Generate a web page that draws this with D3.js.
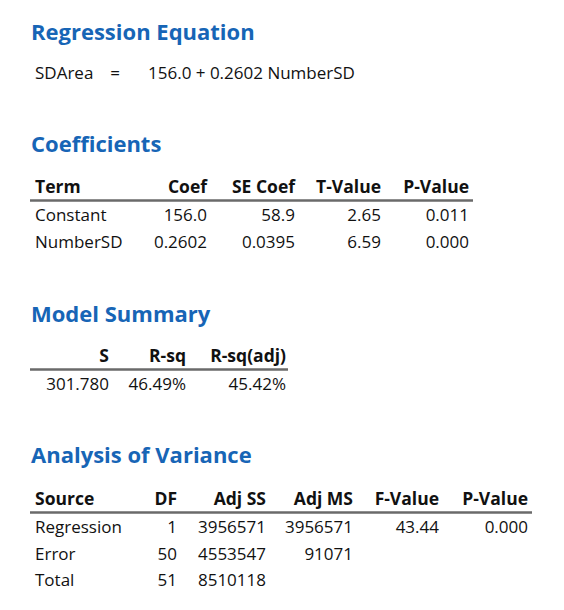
<!DOCTYPE html>
<html>
<head>
<meta charset="utf-8">
<script src="https://cdn.jsdelivr.net/npm/d3@7"></script>
<style>
  body { margin: 0; background: #fff; }
  text { font-family: "Open Sans", "Noto Sans", sans-serif; }
</style>
</head>
<body>
<div id="output"></div>
<script>
// regression output, values copied from the session window
var eqResponse = "SDArea";
var eqTerms = "156.0 + 0.2602 NumberSD";

var coefHeaders = ["Term", "Coef", "SE Coef", "T-Value", "P-Value"];
var coefTerms = ["Constant", "NumberSD"];
var coefCoef = ["156.0", "0.2602"];
var coefSE = ["58.9", "0.0395"];
var coefT = ["2.65", "6.59"];
var coefP = ["0.011", "0.000"];

var summaryHeaders = ["S", "R-sq", "R-sq(adj)"];
var summaryValues = ["301.780", "46.49%", "45.42%"];

var anovaHeaders = ["Source", "DF", "Adj SS", "Adj MS", "F-Value", "P-Value"];
var anovaSource = ["Regression", "Error", "Total"];
var anovaDF = ["1", "50", "51"];
var anovaSS = ["3956571", "4553547", "8510118"];
var anovaMS = ["3956571", "91071", ""];
var anovaF = ["43.44", "", ""];
var anovaP = ["0.000", "", ""];

var width = 564, height = 610;
var blue = "#1765b6", ink = "#111", rule = "#6a6a6a";

var svg = d3.select("#output").append("svg")
    .attr("width", width)
    .attr("height", height);

function heading(label, y) {
  svg.append("text")
    .attr("x", 31)
    .attr("y", y)
    .attr("fill", blue)
    .style("font-size", "22px")
    .style("font-weight", 700)
    .text(label);
}

// draws one table: headers, columns of strings, x scale for column right edges
function table(headers, columns, x, top, ruleEnd) {
  var y = d3.scaleLinear().domain([0, 1]).range([top + 28, top + 54.5]);
  var g = svg.append("g");

  g.selectAll(".hdr")
    .data(headers)
  .enter().append("text")
    .attr("class", "hdr")
    .attr("x", function(d, i) { return x(i); })
    .attr("y", top)
    .attr("text-anchor", function(d, i) { return x.anchor(i); })
    .attr("fill", ink)
    .style("font-size", "17.5px")
    .style("font-weight", 700)
    .text(function(d) { return d; });

  g.append("line")
    .attr("x1", 30)
    .attr("x2", ruleEnd)
    .attr("y1", top + 7.5)
    .attr("y2", top + 7.5)
    .attr("stroke", rule)
    .attr("stroke-width", 2.5);

  columns.forEach(function(col, ci) {
    g.selectAll(".c" + ci)
      .data(col)
    .enter().append("text")
      .attr("class", "c" + ci)
      .attr("x", x(ci))
      .attr("y", function(d, ri) { return y(ri); })
      .attr("text-anchor", x.anchor(ci))
      .attr("fill", ink)
      .style("font-size", "17px")
      .text(function(d) { return d; });
  });
}

function columnScale(rightEdges, firstLeft) {
  var s = d3.scaleOrdinal()
    .domain(d3.range(rightEdges.length))
    .range(rightEdges);
  s.anchor = function(i) { return (firstLeft && i === 0) ? "start" : "end"; };
  return s;
}

// Regression Equation
heading("Regression Equation", 40);
svg.append("text")
  .attr("x", 35).attr("y", 79)
  .attr("fill", ink).style("font-size", "17px")
  .text(eqResponse);
svg.append("text")
  .attr("x", 115).attr("y", 79)
  .attr("text-anchor", "middle")
  .attr("fill", ink).style("font-size", "17px")
  .text("=");
svg.append("text")
  .attr("x", 148).attr("y", 79)
  .attr("fill", ink).style("font-size", "17px")
  .text(eqTerms);

// Coefficients
heading("Coefficients", 152);
table(coefHeaders,
      [coefTerms, coefCoef, coefSE, coefT, coefP],
      columnScale([35, 207, 295, 381, 469], true),
      193, 473);

// Model Summary
heading("Model Summary", 322);
table(summaryHeaders,
      summaryValues.map(function(v) { return [v]; }),
      columnScale([109, 186, 286], false),
      362, 288);

// Analysis of Variance
heading("Analysis of Variance", 463);
table(anovaHeaders,
      [anovaSource, anovaDF, anovaSS, anovaMS, anovaF, anovaP],
      columnScale([35, 177, 266, 353, 439, 528], true),
      505, 532);
</script>
</body>
</html>
